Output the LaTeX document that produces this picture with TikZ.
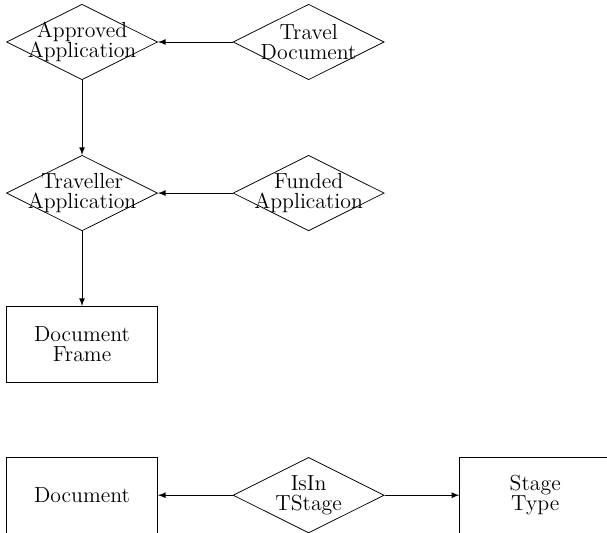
\documentclass[tikz,border=0pt]{standalone}
\usepackage{tikz}
\usetikzlibrary{shapes,arrows,positioning}

\tikzset{
  every node/.style={font=\fontsize{11.5}{10.5}\selectfont},
  rel/.style={diamond, draw, minimum width=2.8cm, minimum height=1.4cm, inner sep=0pt},
  ent/.style={rectangle, draw, minimum width=2.8cm, minimum height=1.4cm, align=center},
  txt/.style={align=center, inner sep=0pt}
}

\begin{document}
\begin{tikzpicture}[x=1.4cm, y=1.4cm]
  \useasboundingbox (-1.086,0.556) rectangle (6.95,-6.49);
  % relationships
  \node[rel] (appr) at (0,0) {};
  \node[txt] (apprtext) at (appr) {Approved\\Application};
  \node[rel] (travdoc) at (3,0) {};
  \node[txt] (travdoctext) at (travdoc) {Travel\\Document};
  \node[rel] (travapp) at (0,-2) {};
  \node[txt] (travapptext) at (travapp) {Traveller\\Application};
  \node[rel] (funded) at (3,-2) {};
  \node[txt] (fundedtext) at (funded) {Funded\\Application};
  \node[rel] (isin) at (3,-6) {};
  \node[txt] (isintext) at (isin) {IsIn\\TStage};
  % entities
  \node[ent] (docframe) at (0,-4) {Document\\Frame};
  \node[ent] (doc) at (0,-6) {Document};
  \node[ent] (stage) at (6,-6) {Stage\\Type};
  % connectors
  \draw[-latex] (travdoc.west) -- (appr.east);
  \draw[-latex] (appr.south) -- (travapp.north);
  \draw[-latex] (funded.west) -- (travapp.east);
  \draw[-latex] (travapp.south) -- (docframe.north);
  \draw[-latex] (isin.west) -- (doc.east);
  \draw[-latex] (isin.east) -- (stage.west);
\end{tikzpicture}
\end{document}
